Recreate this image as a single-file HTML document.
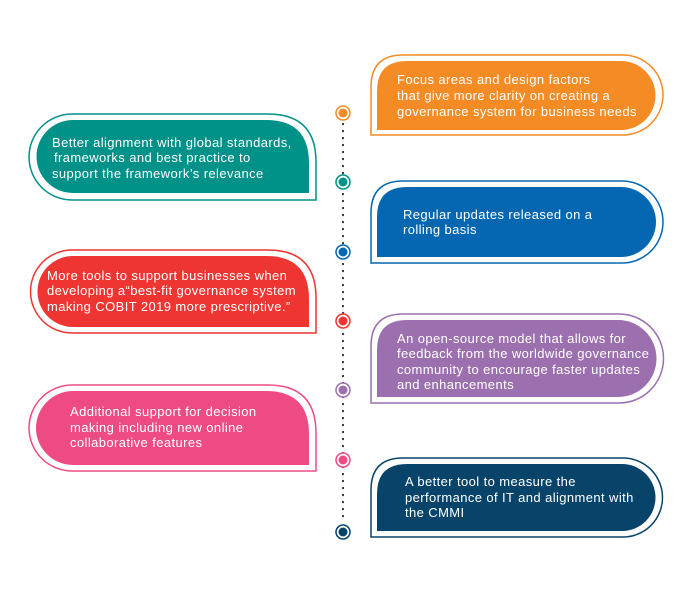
<!DOCTYPE html>
<html><head><style>body{margin:0;background:#fff}svg{display:block}text{font-family:"Liberation Sans",sans-serif;font-size:13px;letter-spacing:0.4px;fill:#fff}</style></head><body>
<svg width="695" height="595" viewBox="0 0 695 595">
<g fill="none" stroke-width="1.5">
<path d="M371,135 L371,87 Q371,55 403,55 L623,55 A40,40 0 0 1 623,135 Z" stroke="#f58b25"/>
<path d="M371,263 L371,213 Q371,181 403,181 L622,181 A41,41 0 0 1 622,263 Z" stroke="#0567b1"/>
<path d="M371,403 L371,346 Q371,314 403,314 L619,314 A44.5,44.5 0 0 1 619,403 Z" stroke="#9c6fae"/>
<path d="M371,537 L371,490 Q371,458 403,458 L623,458 A39.5,39.5 0 0 1 623,537 Z" stroke="#08446a"/>
<path d="M316,200 L72,200 A43,43 0 0 1 72,114 L268,114 Q316,114 316,162 Z" stroke="#009188"/>
<path d="M316,333 L72,333 A41.5,41.5 0 0 1 72,250 L268,250 Q316,250 316,298 Z" stroke="#ee3531"/>
<path d="M316,471 L72,471 A43,43 0 0 1 72,385 L268,385 Q316,385 316,433 Z" stroke="#ee4a84"/>
</g>
<path d="M377,130 L377,91 Q377,61 407,61 L621,61 A34.5,34.5 0 0 1 621,130 Z" fill="#f58b25"/>
<path d="M377,257 L377,217 Q377,187 407,187 L621,187 A35,35 0 0 1 621,257 Z" fill="#0567b1"/>
<path d="M377,397 L377,350 Q377,320 407,320 L618,320 A38.5,38.5 0 0 1 618,397 Z" fill="#9c6fae"/>
<path d="M377,531 L377,494 Q377,464 407,464 L622,464 A33.5,33.5 0 0 1 622,531 Z" fill="#08446a"/>
<path d="M309,193 L73,193 A36.5,36.5 0 0 1 73,120 L266,120 Q309,120 309,163 Z" fill="#009188"/>
<path d="M309,327 L73,327 A35.5,35.5 0 0 1 73,256 L266,256 Q309,256 309,299 Z" fill="#ee3531"/>
<path d="M309,465 L73,465 A37,37 0 0 1 73,391 L266,391 Q309,391 309,434 Z" fill="#ee4a84"/>
<line x1="343" y1="124" x2="343" y2="522" stroke="#333" stroke-width="2.2" stroke-dasharray="0.1 6.9" stroke-linecap="round"/>
<g stroke-width="1.5" fill="#fff">
<circle cx="343" cy="113" r="7" stroke="#f58b25"/><circle cx="343" cy="113" r="4.5" fill="#f58b25" stroke="none"/>
<circle cx="343" cy="182" r="7" stroke="#009188"/><circle cx="343" cy="182" r="4.5" fill="#009188" stroke="none"/>
<circle cx="343" cy="252" r="7" stroke="#0567b1"/><circle cx="343" cy="252" r="4.5" fill="#0567b1" stroke="none"/>
<circle cx="343" cy="321" r="7" stroke="#ee3531"/><circle cx="343" cy="321" r="4.5" fill="#ee3531" stroke="none"/>
<circle cx="343" cy="390" r="7" stroke="#9c6fae"/><circle cx="343" cy="390" r="4.5" fill="#9c6fae" stroke="none"/>
<circle cx="343" cy="460" r="7" stroke="#ee4a84"/><circle cx="343" cy="460" r="4.5" fill="#ee4a84" stroke="none"/>
<circle cx="343" cy="532" r="7" stroke="#08446a"/><circle cx="343" cy="532" r="4.5" fill="#08446a" stroke="none"/>
</g>
<text x="397" y="84">Focus areas and design factors</text>
<text x="397" y="100">that give more clarity on creating a</text>
<text x="397" y="116">governance system for business needs</text>
<text x="52" y="147">Better alignment with global standards,</text>
<text x="54" y="162">frameworks and best practice to</text>
<text x="52" y="178">support the framework’s relevance</text>
<text x="403" y="219">Regular updates released on a</text>
<text x="403" y="234">rolling basis</text>
<text x="47" y="280">More tools to support businesses when</text>
<text x="47" y="295">developing a“best-fit governance system</text>
<text x="47" y="311">making COBIT 2019 more prescriptive.”</text>
<text x="397" y="343">An open-source model that allows for</text>
<text x="397" y="358">feedback from the worldwide governance</text>
<text x="397" y="374">community to encourage faster updates</text>
<text x="397" y="389">and enhancements</text>
<text x="70" y="416">Additional support for decision</text>
<text x="70" y="432">making including new online</text>
<text x="70" y="447">collaborative features</text>
<text x="405" y="486">A better tool to measure the</text>
<text x="405" y="502">performance of IT and alignment with</text>
<text x="405" y="517">the CMMI</text>
</svg>
</body></html>
